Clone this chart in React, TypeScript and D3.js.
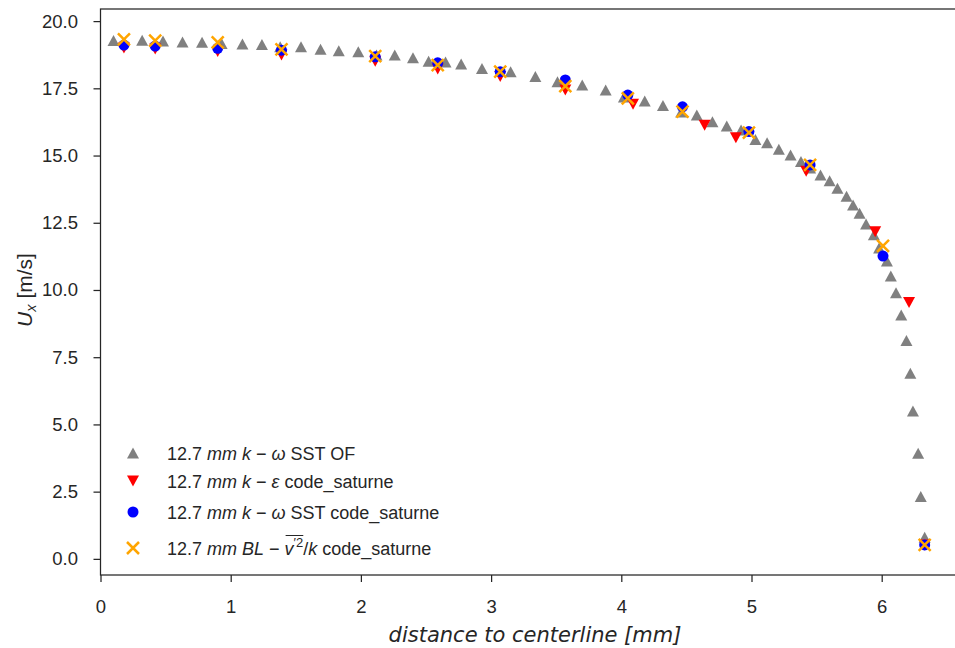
import React, { useRef, useEffect } from 'react';
import * as d3 from 'd3';

// figure size and plot box (pixels)
const width = 955;
const height = 648;
const left = 100.5;
const top = 9;
const bottom = 575;
const right = 960;

// axis ticks
const xTicks = [0, 1, 2, 3, 4, 5, 6];
const yTicks = [0, 2.5, 5, 7.5, 10, 12.5, 15, 17.5, 20];

// 12.7 mm k-omega SST OF (gray up triangles)
const ofX = [0.10, 0.32, 0.48, 0.63, 0.78, 0.93, 1.09, 1.24, 1.38, 1.54, 1.69, 1.83, 1.98, 2.12, 2.26, 2.40, 2.52, 2.65, 2.77, 2.93, 3.15, 3.34, 3.51, 3.70, 3.88, 4.02, 4.18, 4.32, 4.46, 4.58, 4.70, 4.81, 4.92, 5.03, 5.12, 5.21, 5.30, 5.38, 5.45, 5.53, 5.60, 5.66, 5.73, 5.78, 5.83, 5.88, 5.94, 5.98, 6.04, 6.07, 6.11, 6.15, 6.19, 6.22, 6.24, 6.28, 6.30, 6.33];
const ofY = [19.28, 19.29, 19.26, 19.22, 19.21, 19.17, 19.15, 19.13, 19.05, 19.05, 18.95, 18.90, 18.86, 18.74, 18.74, 18.64, 18.51, 18.48, 18.40, 18.24, 18.12, 17.94, 17.74, 17.62, 17.44, 17.18, 17.03, 16.86, 16.62, 16.51, 16.26, 16.10, 15.95, 15.60, 15.48, 15.23, 15.02, 14.78, 14.54, 14.28, 14.06, 13.78, 13.49, 13.16, 12.85, 12.45, 12.05, 11.56, 11.08, 10.52, 9.90, 9.07, 8.12, 6.90, 5.50, 3.93, 2.32, 0.80];

// 12.7 mm k-epsilon code_saturne (red down triangles)
const keX = [0.18, 0.42, 0.90, 1.39, 2.11, 2.59, 3.07, 3.57, 4.09, 4.64, 4.88, 5.42, 5.95, 6.21, 6.33];
const keY = [19.00, 18.96, 18.87, 18.74, 18.51, 18.22, 17.94, 17.44, 16.91, 16.13, 15.66, 14.42, 12.17, 9.53, 0.52];

// 12.7 mm k-omega SST code_saturne (blue circles)
const sstX = [0.18, 0.42, 0.90, 1.39, 2.11, 2.59, 3.07, 3.57, 4.05, 4.47, 4.98, 5.45, 6.01, 6.33];
const sstY = [19.11, 19.07, 18.99, 18.92, 18.67, 18.45, 18.12, 17.81, 17.25, 16.81, 15.89, 14.65, 11.26, 0.52];

// 12.7 mm BL-v2/k code_saturne (orange crosses)
const blX = [0.18, 0.42, 0.90, 1.39, 2.11, 2.59, 3.07, 3.57, 4.05, 4.47, 4.98, 5.45, 6.01, 6.33];
const blY = [19.32, 19.27, 19.21, 18.95, 18.70, 18.36, 18.12, 17.58, 17.13, 16.63, 15.85, 14.65, 11.64, 0.52];

const ink = '#262626';
const font = "'Liberation Sans', Arial, sans-serif";
const mathFont = "'DejaVu Sans', sans-serif";

const triUp = 'M0,-5.5L6,5.5L-6,5.5Z';
const triDown = 'M0,5.5L6,-5.5L-6,-5.5Z';

export default function App() {
    const svgRef = useRef<SVGSVGElement>(null);

    useEffect(() => {
        if (!svgRef.current) return;
        const svg = d3.select(svgRef.current);
        svg.selectAll('*').remove();

        const x = d3.scaleLinear().domain([0, (right - left) / 130.2]).range([left, right]);
        const y = d3.scaleLinear().domain([-0.6, 20.45]).range([bottom, top]);

        const zip = (xs: number[], ys: number[]) => xs.map((v, i) => [v, ys[i]] as [number, number]);

        // markers, drawn in the plotting order
        svg.append('g').selectAll('path').data(zip(ofX, ofY)).enter().append('path')
            .attr('d', triUp).attr('fill', 'gray')
            .attr('transform', d => `translate(${x(d[0])},${y(d[1])})`);

        svg.append('g').selectAll('path').data(zip(keX, keY)).enter().append('path')
            .attr('d', triDown).attr('fill', 'red')
            .attr('transform', d => `translate(${x(d[0])},${y(d[1])})`);

        svg.append('g').selectAll('circle').data(zip(sstX, sstY)).enter().append('circle')
            .attr('cx', d => x(d[0])).attr('cy', d => y(d[1])).attr('r', 5.5).attr('fill', 'blue');

        svg.append('g').selectAll('path').data(zip(blX, blY)).enter().append('path')
            .attr('d', 'M-6,-6L6,6M-6,6L6,-6').attr('stroke', 'orange').attr('stroke-width', 2.5)
            .attr('fill', 'none')
            .attr('transform', d => `translate(${x(d[0])},${y(d[1])})`);

        // frame
        svg.append('rect')
            .attr('x', left).attr('y', top).attr('width', right - left).attr('height', bottom - top)
            .attr('fill', 'none').attr('stroke', ink).attr('stroke-width', 1.25);

        // axes
        const gx = svg.append('g').attr('transform', `translate(0,${bottom})`)
            .call(d3.axisBottom(x).tickValues(xTicks).tickFormat(d3.format('d')).tickSize(7).tickSizeOuter(0).tickPadding(18));
        const gy = svg.append('g').attr('transform', `translate(${left},0)`)
            .call(d3.axisLeft(y).tickValues(yTicks).tickFormat(d3.format('.1f')).tickSize(7).tickSizeOuter(0).tickPadding(15.5));
        [gx, gy].forEach(g => {
            g.select('.domain').remove();
            g.selectAll('line').attr('stroke', ink).attr('stroke-width', 1.25);
            g.selectAll('text').attr('fill', ink).style('font-family', font).style('font-size', '18.5px');
        });

        // axis labels
        svg.append('text')
            .attr('x', 535).attr('y', 642).attr('text-anchor', 'middle')
            .style('font-family', mathFont).style('font-style', 'italic')
            .style('font-size', '21px').attr('fill', ink)
            .text('distance to centerline [mm]');

        const yl = svg.append('text')
            .attr('transform', 'translate(32,290) rotate(-90)').attr('text-anchor', 'middle')
            .style('font-family', font).style('font-size', '21px').attr('fill', ink);
        yl.append('tspan').style('font-style', 'italic').text('U');
        yl.append('tspan').style('font-style', 'italic').style('font-size', '14.5px').attr('dy', 4).text('x');
        yl.append('tspan').attr('dy', -4).text(' [m/s]');

        // legend
        type Part = { t: string; it?: boolean; sup?: boolean };
        const labels: Part[][] = [
            [{ t: '12.7 ' }, { t: 'mm', it: true }, { t: ' ' }, { t: 'k', it: true }, { t: ' \u2212 ' }, { t: '\u03c9', it: true }, { t: ' SST OF' }],
            [{ t: '12.7 ' }, { t: 'mm', it: true }, { t: ' ' }, { t: 'k', it: true }, { t: ' \u2212 ' }, { t: '\u03b5', it: true }, { t: ' code_saturne' }],
            [{ t: '12.7 ' }, { t: 'mm', it: true }, { t: ' ' }, { t: 'k', it: true }, { t: ' \u2212 ' }, { t: '\u03c9', it: true }, { t: ' SST code_saturne' }],
            [{ t: '12.7 ' }, { t: 'mm', it: true }, { t: ' ' }, { t: 'BL', it: true }, { t: ' \u2212 ' }, { t: 'v', it: true }, { t: '\u2032', sup: true }, { t: '2', sup: true }, { t: '/' }, { t: 'k', it: true }, { t: ' code_saturne' }],
        ];
        const rows = [453, 481, 512, 548];
        const lg = svg.append('g');
        const lx = 133;

        lg.append('path').attr('d', triUp).attr('fill', 'gray').attr('transform', `translate(${lx},${rows[0]})`);
        lg.append('path').attr('d', triDown).attr('fill', 'red').attr('transform', `translate(${lx},${rows[1]})`);
        lg.append('circle').attr('cx', lx).attr('cy', rows[2]).attr('r', 5.5).attr('fill', 'blue');
        lg.append('path').attr('d', 'M-6,-6L6,6M-6,6L6,-6').attr('stroke', 'orange').attr('stroke-width', 2.5)
            .attr('transform', `translate(${lx},${rows[3]})`);

        labels.forEach((parts, i) => {
            const t = lg.append('text').attr('x', 167).attr('y', rows[i] + 6.5)
                .style('font-family', font).style('font-size', '18px').attr('fill', ink);
            let raised = false;
            const supSpans: SVGTSpanElement[] = [];
            parts.forEach(p => {
                const s = t.append('tspan').text(p.t);
                if (p.it) s.style('font-style', 'italic');
                if (p.sup) {
                    s.style('font-size', '13px');
                    if (!raised) { s.attr('dy', -8); raised = true; }
                } else if (raised) {
                    s.attr('dy', 8); raised = false;
                }
                if (p.t === 'v' || p.sup) supSpans.push(s.node() as SVGTSpanElement);
            });
            if (supSpans.length) {
                // overline over v'^2
                const boxes = supSpans.map(n => n.getBBox());
                const x0 = d3.min(boxes, b => b.x) as number;
                const x1 = d3.max(boxes, b => b.x + b.width) as number;
                const y0 = (d3.min(boxes, b => b.y) as number) + 1;
                lg.append('line').attr('x1', x0 + 1).attr('x2', x1).attr('y1', y0).attr('y2', y0)
                    .attr('stroke', ink).attr('stroke-width', 1);
            }
        });
    }, []);

    return (
        <div>
            <style>{'body{margin:0;background:#fff}'}</style>
            <svg ref={svgRef} width={width} height={height} style={{ display: 'block', background: '#fff' }}></svg>
        </div>
    );
}
